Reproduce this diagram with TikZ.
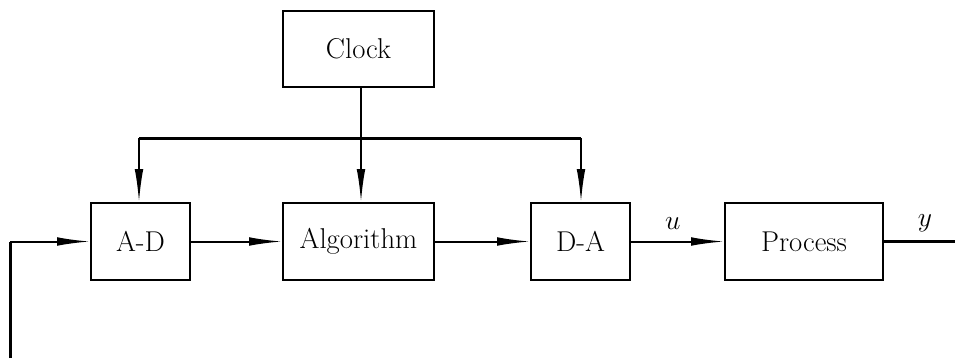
\documentclass[tikz,border=0pt]{standalone}
\usetikzlibrary{arrows.meta}
\begin{document}
\begin{tikzpicture}[x=0.75pt,y=-0.75pt,
  block/.style={draw,line width=1pt,inner sep=0pt,font=\fontsize{21.5}{25}\selectfont},
  sig/.style={line width=1.5pt,-{Latex[length=25pt,width=6.5pt]}},
  bus/.style={line width=2.25pt},
  lbl/.style={font=\fontsize{21.5}{25}\selectfont}]
\useasboundingbox (0,0) rectangle (955,358);
% blocks
\node[block,minimum width=113.25pt,minimum height=57pt] (clock) at (358.5,49) {Clock};
\node[block,minimum width=74.25pt,minimum height=57.75pt] (ad) at (140.5,241.5) {A-D};
\node[block,minimum width=113.25pt,minimum height=57.75pt] (alg) at (358.5,241.5) {Algorithm};
\node[block,minimum width=74.25pt,minimum height=57.75pt] (da) at (580.5,241.5) {D-A};
\node[block,minimum width=118.5pt,minimum height=57.75pt] (proc) at (804,241.5) {Process};
% clock distribution
\coordinate (busl) at (139,138);
\coordinate (busr) at (581,138);
\coordinate (busm) at (361,138);
\draw[line width=1.1pt] (clock.south -| busm) -- (busm);
\draw[bus] (busl) -- (busr);
\draw[sig] (busl) -- (busl |- ad.north);
\draw[sig] (busm) -- (busm |- alg.north);
\draw[sig] (busr) -- (busr |- da.north);
% signal path
\coordinate (fbin) at (10,358);
\coordinate (fbc) at (10,241.5);
\draw[bus] (fbin) -- (fbc);
\draw[sig] (fbc) -- (ad.west);
\draw[sig] (ad) -- (alg);
\draw[sig] (alg) -- (da);
\draw[sig] (da) -- node[lbl,above=5pt,pos=0.45] (u) {$u$} (proc);
\coordinate (out) at (955,241.5);
\draw[bus] (proc.east) -- node[lbl,above=3pt,pos=0.58] (y) {$y$} (out);
\end{tikzpicture}
\end{document}
